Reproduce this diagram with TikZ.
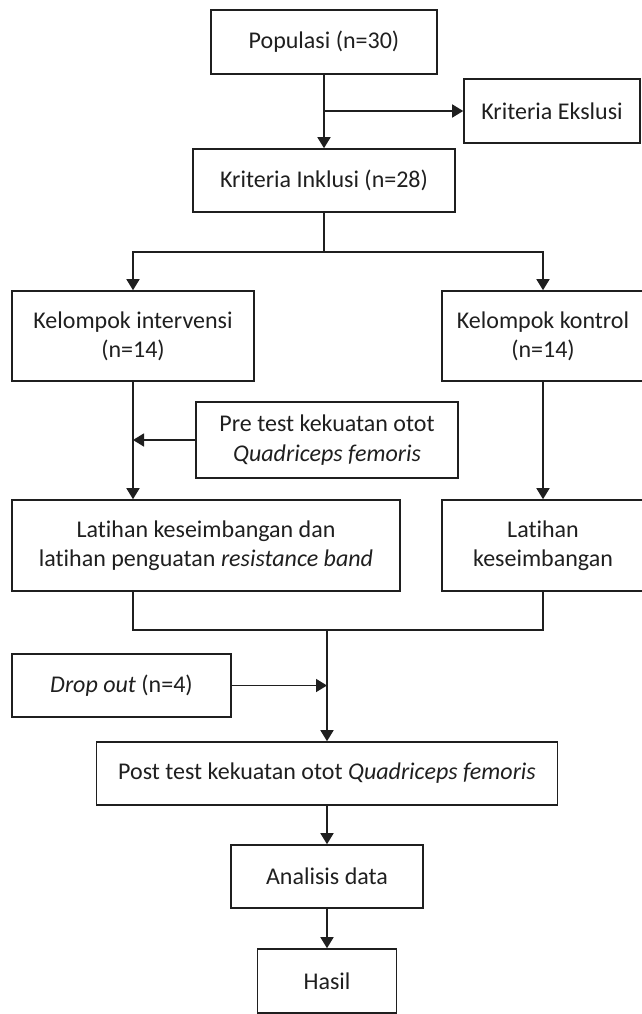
\documentclass[tikz,border=0pt]{standalone}
\usepackage{fontspec}
\setmainfont[Ligatures=NoCommon]{Carlito}
\usetikzlibrary{arrows.meta}
\colorlet{box edge}{black!88}
\colorlet{box text}{black!88}
\tikzset{box/.style={draw=box edge, line width=1.6pt, text=box text, inner sep=0pt,
    align=center, font=\fontsize{24}{29.3}\selectfont},
    link/.style={draw=box edge, line width=1.6pt},
    arrow/.style={link, -{Triangle[length=11pt,width=13pt]}}}

\begin{document}
\begin{tikzpicture}[x=1pt,y=-1pt]
    \useasboundingbox (0,0) rectangle (641,1014);
    \node[box, minimum width=226pt, minimum height=64pt] (pop) at (324,42) {Populasi (n=30)};
    \node[box, minimum width=176pt, minimum height=64pt] (eks) at (552,111) {Kriteria Ekslusi};
    \node[box, minimum width=262pt, minimum height=63pt] (ink) at (324,180.5) {Kriteria Inklusi (n=28)};
    \coordinate (split) at (324,252);
    \node[box, minimum width=242pt, minimum height=90pt] (intv) at (133,336) {Kelompok intervensi\\(n=14)};
    \node[box, minimum width=202pt, minimum height=90pt] (kont) at (543,336) {Kelompok kontrol\\(n=14)};
    \node[box, minimum width=262pt, minimum height=76pt] (pre) at (327,440) {Pre test kekuatan otot\\\textit{Quadriceps femoris}};
    \node[box, minimum width=388pt, minimum height=91pt] (latA) at (206,545.5) {Latihan keseimbangan dan\\latihan penguatan \textit{resistance band}};
    \node[box, minimum width=202pt, minimum height=91pt] (latB) at (543,545.5) {Latihan\\keseimbangan};
    \coordinate (merge) at (327,630);
    \node[box, minimum width=219pt, minimum height=63pt] (drop) at (121.5,685.5) {\textit{Drop out} (n=4)};
    \node[box, minimum width=461pt, minimum height=63pt] (post) at (327,773.5) {Post test kekuatan otot \textit{Quadriceps femoris}};
    \node[box, minimum width=192pt, minimum height=63pt] (ana) at (327,876.5) {Analisis data};
    \node[box, minimum width=139pt, minimum height=64pt] (has) at (327,981) {Hasil};
    % connectors
    \draw[arrow] (pop) -- (ink);
    \draw[arrow] (pop.south |- eks.west) -- (eks.west);
    \draw[link] (ink) -- (split);
    \draw[arrow] (split) -| (intv.north);
    \draw[arrow] (split) -| (kont.north);
    \draw[arrow] (intv.south) -- (intv.south |- latA.north);
    \draw[arrow] (pre.west) -- (pre.west -| intv.south);
    \draw[arrow] (kont) -- (latB);
    \draw[link] (intv.south |- latA.south) |- (merge) -| (latB.south);
    \draw[arrow] (merge) -- (post.north);
    \draw[arrow] (drop.east) -- (drop.east -| merge);
    \draw[arrow] (post) -- (ana);
    \draw[arrow] (ana) -- (has);
\end{tikzpicture}
\end{document}
